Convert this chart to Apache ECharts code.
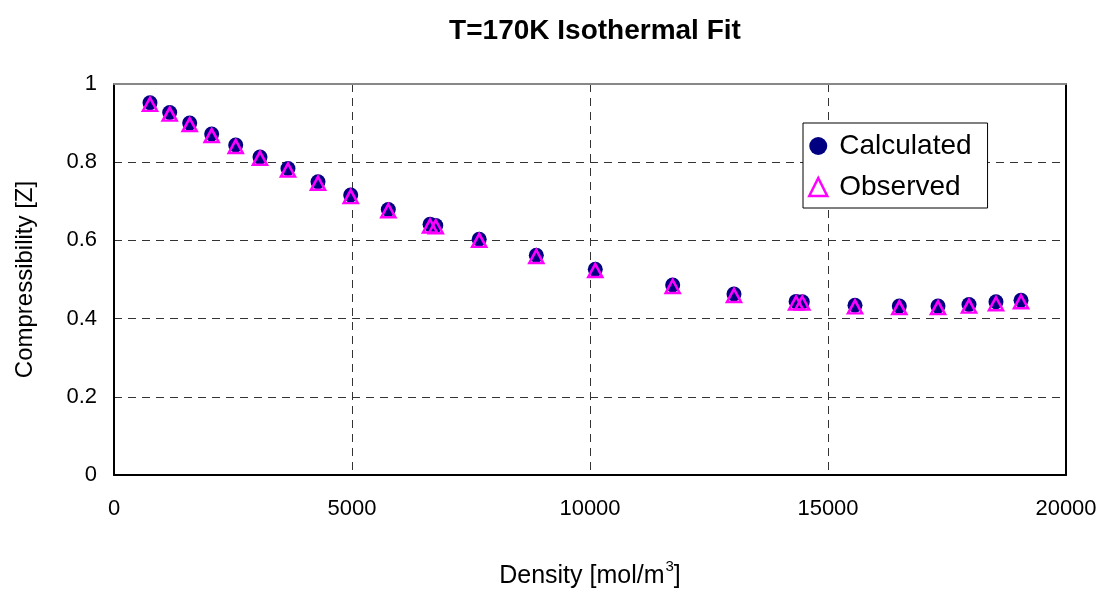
<!DOCTYPE html>
<html>
<head>
<meta charset="utf-8">
<script src="https://cdn.jsdelivr.net/npm/echarts@6/dist/echarts.min.js"></script>
<style>
  html, body { margin: 0; padding: 0; background: #ffffff; overflow: hidden; }
  #chart { width: 1106px; height: 590px; }
</style>
</head>
<body>
<div id="chart"></div>
<script>
// Density [mol/m3] for each measurement
const density = [756, 1170, 1590, 2052, 2557, 3067, 3655, 4286, 4973, 5763, 6640, 6760,
  7672, 8872, 10111, 11737, 13025, 14330, 14460, 15567, 16498, 17311, 17962, 18529, 19055];
// Compressibility factor from the isothermal fit
const calculated = [0.952, 0.927, 0.900, 0.872, 0.844, 0.813, 0.784, 0.750, 0.716, 0.679, 0.641, 0.638,
  0.603, 0.562, 0.526, 0.486, 0.463, 0.444, 0.443, 0.434, 0.432, 0.432, 0.436, 0.443, 0.447];
// Measured compressibility factor
const observed = [0.948, 0.923, 0.896, 0.868, 0.840, 0.810, 0.780, 0.746, 0.712, 0.676, 0.637, 0.635,
  0.600, 0.559, 0.523, 0.482, 0.459, 0.440, 0.440, 0.430, 0.428, 0.428, 0.432, 0.438, 0.443];
const xTicks = [0, 5000, 10000, 15000, 20000];
const yTicks = [0, 0.2, 0.4, 0.6, 0.8, 1];

const font = 'Liberation Sans, Arial, sans-serif';
const pairs = (xs, ys) => xs.map((x, i) => [x, ys[i]]);

const chart = echarts.init(document.getElementById('chart'), null, { renderer: 'canvas' });
const gridLine = { show: true, lineStyle: { color: '#333', width: 1, type: [8, 6] } };

chart.setOption({
  animation: false,
  backgroundColor: '#ffffff',
  title: {
    text: 'T=170K Isothermal Fit',
    left: 590,
    textAlign: 'center',
    top: 12,
    textStyle: { fontFamily: font, fontWeight: 'bold', fontSize: 28, color: '#000' }
  },
  grid: { left: 114, top: 84, right: 40, bottom: 115, outerBoundsMode: 'none', containLabel: false },
  legend: {
    orient: 'vertical',
    left: 803, top: 123,
    padding: [9, 16, 7, 5],
    itemGap: 13,
    itemWidth: 18, itemHeight: 18,
    borderColor: '#000', borderWidth: 1,
    borderRadius: 0,
    backgroundColor: '#fff',
    textStyle: { fontFamily: font, fontSize: 28, color: '#000', padding: [0, 0, 0, 7] },
    data: [
      { name: 'Calculated', icon: 'circle' },
      { name: 'Observed', icon: 'triangle', itemStyle: { color: '#fff', borderColor: '#ff00ff', borderWidth: 2.5, opacity: 1 } }
    ]
  },
  xAxis: [{
    type: 'value', min: xTicks[0], max: xTicks[xTicks.length - 1], interval: 5000,
    name: '{base|Density [mol/m}{sup|3}{base|]}',
    nameLocation: 'middle', nameGap: 84,
    nameTextStyle: {
      fontFamily: font, fontSize: 25, color: '#000',
      rich: {
        base: { fontFamily: font, fontSize: 25, color: '#000', verticalAlign: 'bottom' },
        sup: { fontFamily: font, fontSize: 15, color: '#000', verticalAlign: 'bottom', padding: [0, 0, 15, 1] }
      }
    },
    axisLine: { show: true, lineStyle: { color: '#000', width: 2 } },
    axisTick: { show: false },
    axisLabel: { fontFamily: font, fontSize: 22, color: '#000', margin: 23, formatter: v => String(v) },
    splitLine: gridLine
  }, {
    type: 'value', position: 'top', min: xTicks[0], max: xTicks[xTicks.length - 1],
    axisLine: { show: true, onZero: false, lineStyle: { color: '#888', width: 2 } },
    axisTick: { show: false }, axisLabel: { show: false }, splitLine: { show: false }
  }],
  yAxis: [{
    type: 'value', min: yTicks[0], max: yTicks[yTicks.length - 1], interval: 0.2,
    name: 'Compressibility [Z]',
    nameLocation: 'middle', nameGap: 77,
    nameTextStyle: { fontFamily: font, fontSize: 24, color: '#000' },
    axisLine: { show: true, lineStyle: { color: '#000', width: 2 } },
    axisTick: { show: false },
    axisLabel: { fontFamily: font, fontSize: 22, color: '#000', margin: 17,
      formatter: v => String(Math.round(v * 10) / 10) },
    splitLine: gridLine
  }, {
    type: 'value', position: 'right', min: yTicks[0], max: yTicks[yTicks.length - 1],
    axisLine: { show: true, onZero: false, lineStyle: { color: '#000', width: 2 } },
    axisTick: { show: false }, axisLabel: { show: false }, splitLine: { show: false }
  }],
  series: [{
    name: 'Calculated',
    type: 'scatter',
    symbol: 'circle',
    symbolSize: 15,
    itemStyle: { color: '#000080', opacity: 1 },
    data: pairs(density, calculated),
    z: 2
  }, {
    name: 'Observed',
    type: 'scatter',
    symbol: 'triangle',
    symbolSize: [14, 13],
    itemStyle: { color: 'rgba(0,0,0,0)', borderColor: '#ff00ff', borderWidth: 2.5, opacity: 1 },
    data: pairs(density, observed),
    z: 3
  }]
});
</script>
</body>
</html>
